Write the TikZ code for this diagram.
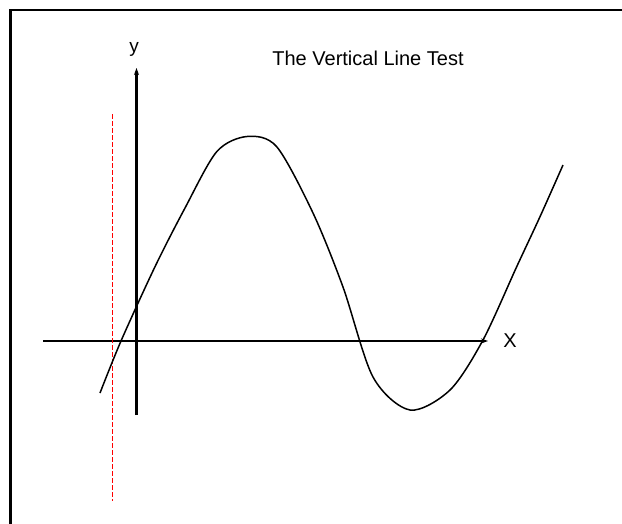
\documentclass[tikz,border=0pt]{standalone}
\usepackage{fontspec}
\setmainfont{Liberation Sans}
\usetikzlibrary{arrows.meta}
\begin{document}
\begin{tikzpicture}[x=1pt,y=-1pt,
  axis/.style={line width=2.3pt,-{Stealth[length=7pt,width=5pt]}},
  curve/.style={line width=1.5pt},
  vtest/.style={red,line width=1.4pt,dash pattern=on 5pt off 2pt},
  lbl/.style={inner sep=0pt}]
\useasboundingbox (0,0) rectangle (622,523);
\fill[white] (0,0) rectangle (622,523);
\draw[line width=2.8pt] (10.5,640) -- (10.5,10) -- (700,10);
% axes
\coordinate (yb) at (136.5,415);
\coordinate (yt) at (136.5,68);
\coordinate (xl) at (43,341);
\coordinate (xr) at (488,341);
\draw[axis] (yb) -- (yt);
\draw[axis] (xl) -- (xr);
\node[lbl,font=\fontsize{19}{19}\selectfont] (ylab) at (134,49) {y};
\node[lbl,font=\fontsize{20}{20}\selectfont] (xlab) at (510,341) {X};
\node[lbl,font=\fontsize{20}{20}\selectfont] (title) at (368,58) {The Vertical Line Test};
% vertical line test
\coordinate (vt) at (112.3,114);
\coordinate (vb) at (112.3,501);
\draw[vtest] (vt) -- (vb);
% curve
\draw[curve] plot[smooth,tension=0.5] coordinates {
 (100,393) (121,341) (155,266.7) (185,208) (216.7,151.7) (247,136.5)
 (276.7,146.7) (313,213) (343,287) (373,377) (410,410) (450,390)
 (483,340) (516.7,266.7) (540,216.7) (563,165)};
\end{tikzpicture}
\end{document}
